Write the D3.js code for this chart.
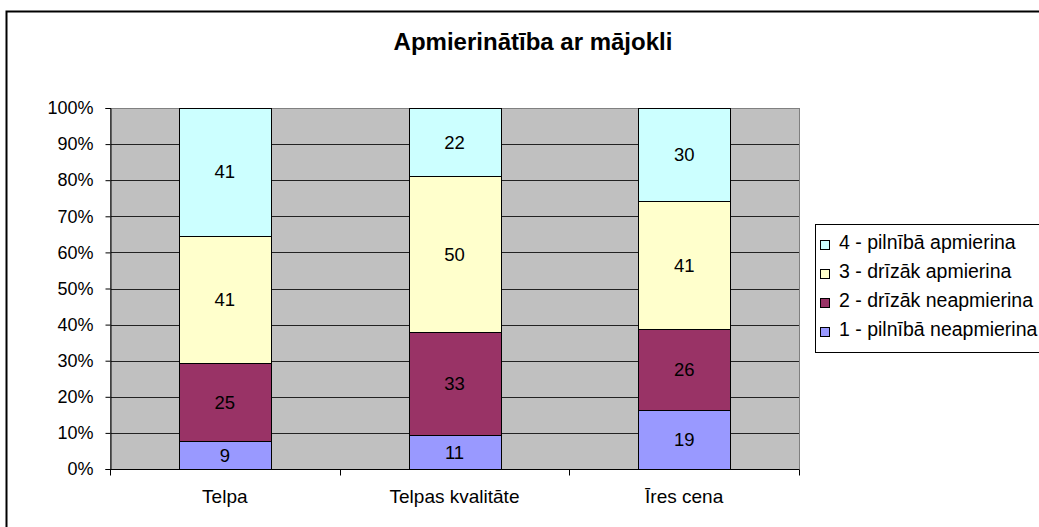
<!DOCTYPE html>
<html>
<head>
<meta charset="utf-8">
<script src="https://cdn.jsdelivr.net/npm/d3@7"></script>
<style>
  body { margin: 0; background: #fff; }
  svg { font-family: "Liberation Sans", Arial, sans-serif; }
</style>
</head>
<body>
<div id="chart"></div>
<script>
'use strict';

// data
const categories = ['Telpa', 'Telpas kvalitāte', 'Īres cena'];
const seriesNames = ['1 - pilnībā neapmierina', '2 - drīzāk neapmierina', '3 - drīzāk apmierina', '4 - pilnībā apmierina'];
const seriesColors = ['#9999FF', '#993366', '#FFFFCC', '#CCFFFF'];
const s1 = [9, 11, 19];
const s2 = [25, 33, 26];
const s3 = [41, 50, 41];
const s4 = [41, 22, 30];
const yTicks = [0, 0.1, 0.2, 0.3, 0.4, 0.5, 0.6, 0.7, 0.8, 0.9, 1];

const W = 1039, H = 527;
const margin = { top: 108, right: 240, bottom: 58, left: 110 };
const width = W - margin.left - margin.right;
const height = H - margin.top - margin.bottom;

let rows = categories.map((c, i) => {
    let total = s1[i] + s2[i] + s3[i] + s4[i];
    return { cat: c, total: total, s0: s1[i], s1: s2[i], s2: s3[i], s3: s4[i] };
});

let stack = d3.stack()
    .keys(['s0', 's1', 's2', 's3'])
    .value((d, k) => d[k] / d.total);
let layers = stack(rows);

let svg = d3.select('#chart').append('svg')
    .attr('width', W)
    .attr('height', H);

// outer chart frame (runs off the right and bottom edges)
svg.append('rect')
    .attr('x', 6.5).attr('y', 11.5)
    .attr('width', W + 20).attr('height', H + 20)
    .attr('fill', 'none').attr('stroke', '#000').attr('stroke-width', 2);

svg.append('text')
    .attr('x', 533).attr('y', 50)
    .attr('text-anchor', 'middle')
    .attr('font-size', '24px').attr('font-weight', 'bold')
    .text('Apmierinātība ar mājokli');

let g = svg.append('g')
    .attr('transform', `translate(${margin.left},${margin.top})`);

let x = d3.scaleBand().domain(categories).range([0, width]).paddingInner(0).paddingOuter(0);
let y = d3.scaleLinear().domain([0, 1]).range([height, 0]);
let barW = x.bandwidth() * 0.4;

g.append('rect')
    .attr('width', width).attr('height', height)
    .attr('fill', '#C0C0C0');

// gridlines
g.append('g')
    .selectAll('line')
    .data(yTicks)
    .join('line')
    .attr('x1', 0).attr('x2', width)
    .attr('y1', d => Math.round(y(d)) + 0.5).attr('y2', d => Math.round(y(d)) + 0.5)
    .attr('stroke', '#222');

g.append('rect')
    .attr('x', 0.5).attr('y', 0.5)
    .attr('width', width).attr('height', height)
    .attr('fill', 'none').attr('stroke', '#808080');

// bars
layers.forEach((layer, li) => {
    g.append('g')
        .selectAll('rect')
        .data(layer)
        .join('rect')
        .attr('x', d => Math.round(x(d.data.cat) + (x.bandwidth() - barW) / 2) + 0.5)
        .attr('y', d => Math.round(y(d[1])) + 0.5)
        .attr('width', Math.round(barW))
        .attr('height', d => Math.round(y(d[0])) - Math.round(y(d[1])))
        .attr('fill', seriesColors[li])
        .attr('stroke', '#000');

    g.append('g')
        .selectAll('text')
        .data(layer)
        .join('text')
        .attr('x', d => x(d.data.cat) + x.bandwidth() / 2)
        .attr('y', d => (y(d[0]) + y(d[1])) / 2)
        .attr('dy', '0.36em')
        .attr('text-anchor', 'middle')
        .attr('font-size', '18.5px')
        .attr('fill', '#000')
        .text(d => d.data['s' + li]);
});

// y axis
let yAxis = g.append('g')
    .attr('transform', 'translate(0.5,0)')
    .call(d3.axisLeft(y).tickValues(yTicks).tickFormat(d3.format('.0%')).tickSize(5).tickPadding(12));
yAxis.select('.domain').attr('stroke', '#000');
yAxis.selectAll('.tick line').attr('stroke', '#000');
yAxis.selectAll('.tick text').attr('font-size', '18px').attr('fill', '#000').attr('font-family', null);

// x axis
let xAxis = g.append('g')
    .attr('transform', `translate(0,${height + 0.5})`);
xAxis.append('line').attr('x1', 0).attr('x2', width).attr('stroke', '#000');
xAxis.selectAll('.tk')
    .data(d3.range(categories.length + 1))
    .join('line')
    .attr('class', 'tk')
    .attr('x1', d => Math.round(d * x.step()) + 0.5).attr('x2', d => Math.round(d * x.step()) + 0.5)
    .attr('y1', 0).attr('y2', 6)
    .attr('stroke', '#000');
xAxis.selectAll('text')
    .data(categories)
    .join('text')
    .attr('x', d => x(d) + x.bandwidth() / 2)
    .attr('y', 33)
    .attr('text-anchor', 'middle')
    .attr('font-size', '19px')
    .text(d => d);

// legend
let legend = svg.append('g').attr('transform', 'translate(815,224)');
legend.append('rect')
    .attr('x', 0.5).attr('y', 0.5)
    .attr('width', 240).attr('height', 128)
    .attr('fill', '#fff').attr('stroke', '#000');
let order = [3, 2, 1, 0];
let item = legend.selectAll('.item')
    .data(order)
    .join('g')
    .attr('class', 'item')
    .attr('transform', (d, i) => `translate(0,${25 + i * 29})`);
item.append('rect')
    .attr('x', 5.5).attr('y', -8.5)
    .attr('width', 9).attr('height', 9)
    .attr('fill', d => seriesColors[d]).attr('stroke', '#000');
item.append('text')
    .attr('x', 24).attr('y', 0)
    .attr('font-size', '19.5px')
    .text(d => seriesNames[d]);
</script>
</body>
</html>
